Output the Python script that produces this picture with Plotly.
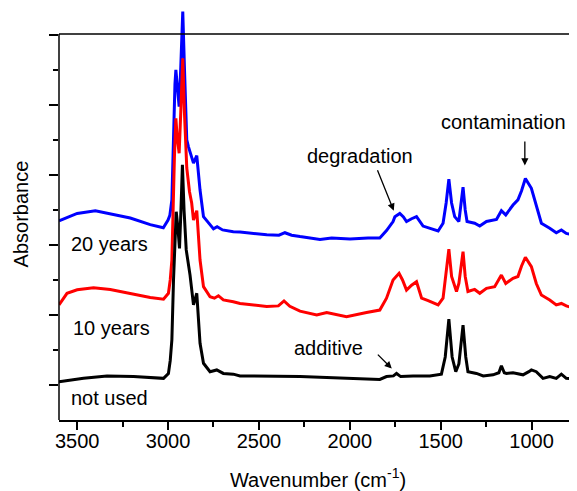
import plotly.graph_objects as go

# ---- data (wavenumber in cm^-1, absorbance in offset arbitrary units) ----
wn_20 = [3600, 3500, 3400, 3300, 3208, 3098, 3026, 3000, 2990, 2979, 2970, 2962, 2957, 2950, 2939, 2930,
         2919, 2910, 2897, 2888, 2875, 2860, 2842, 2824, 2805, 2769, 2750, 2730, 2700, 2641, 2604, 2457,
         2390, 2357, 2320, 2274, 2164, 2100, 1999, 1900, 1835, 1798, 1762, 1752, 1725, 1705, 1688, 1660,
         1633, 1597, 1560, 1514, 1487, 1470, 1455, 1440, 1423, 1400, 1390, 1377, 1365, 1355, 1313, 1285,
         1248, 1193, 1166, 1142, 1102, 1075, 1055, 1034, 1001, 974, 946, 900, 864, 836, 809, 750]
abs_20 = [5.69, 5.90, 5.98, 5.86, 5.77, 5.58, 5.49, 5.71, 5.85, 6.29, 8.20, 9.60, 10.0, 9.50, 8.95, 10.09,
          11.67, 10.09, 8.00, 7.81, 7.60, 7.34, 7.55, 6.57, 5.81, 5.57, 5.46, 5.52, 5.43, 5.38, 5.37, 5.29,
          5.28, 5.35, 5.28, 5.24, 5.16, 5.20, 5.17, 5.20, 5.20, 5.41, 5.67, 5.81, 5.90, 5.80, 5.67, 5.75,
          5.81, 5.54, 5.48, 5.40, 5.62, 6.20, 6.88, 6.20, 5.81, 5.67, 6.10, 6.65, 6.00, 5.67, 5.62, 5.54,
          5.67, 5.73, 5.98, 5.86, 6.14, 6.29, 6.55, 6.90, 6.62, 6.09, 5.62, 5.48, 5.35, 5.43, 5.33, 5.27]

wn_10 = [3600, 3556, 3500, 3410, 3318, 3190, 3098, 3025, 2998, 2988, 2979, 2965, 2957, 2950, 2939, 2930,
         2919, 2910, 2897, 2882, 2870, 2860, 2842, 2824, 2805, 2769, 2745, 2723, 2696, 2641, 2604, 2457,
         2393, 2362, 2330, 2274, 2182, 2127, 2018, 1908, 1835, 1798, 1762, 1729, 1710, 1688, 1660, 1633,
         1605, 1569, 1514, 1487, 1470, 1455, 1440, 1413, 1400, 1377, 1365, 1350, 1313, 1285, 1248, 1203,
         1166, 1142, 1102, 1075, 1055, 1034, 1001, 974, 946, 900, 864, 836, 809, 750]
abs_10 = [3.29, 3.62, 3.72, 3.78, 3.73, 3.60, 3.50, 3.45, 3.62, 4.00, 4.57, 7.50, 8.62, 8.10, 7.62, 8.80,
          10.33, 8.80, 7.20, 6.52, 6.20, 5.71, 5.98, 4.57, 3.81, 3.52, 3.48, 3.55, 3.43, 3.38, 3.33, 3.24,
          3.26, 3.40, 3.25, 3.11, 3.00, 3.07, 2.95, 3.07, 3.14, 3.48, 4.00, 4.19, 4.00, 3.71, 3.85, 3.95,
          3.48, 3.41, 3.29, 3.48, 4.20, 4.88, 4.10, 3.67, 3.90, 4.81, 4.10, 3.67, 3.73, 3.62, 3.76, 3.81,
          4.14, 3.90, 4.05, 4.10, 4.40, 4.65, 4.38, 3.90, 3.57, 3.43, 3.29, 3.33, 3.26, 3.16]

wn_new = [3600, 3465, 3336, 3190, 3025, 2998, 2988, 2979, 2970, 2962, 2955, 2946, 2937, 2929, 2921, 2912,
          2900, 2879, 2860, 2842, 2824, 2805, 2769, 2732, 2696, 2641, 2604, 2274, 1999, 1835, 1798, 1760,
          1743, 1720, 1652, 1560, 1496, 1475, 1455, 1437, 1417, 1400, 1377, 1362, 1350, 1303, 1266, 1212,
          1180, 1166, 1150, 1138, 1102, 1047, 1015, 1001, 974, 950, 937, 900, 864, 836, 809, 750]
abs_new = [1.09, 1.19, 1.26, 1.24, 1.19, 1.33, 1.70, 2.29, 4.00, 5.30, 5.95, 5.50, 4.90, 6.00, 7.29, 6.00,
           4.86, 4.14, 3.29, 3.62, 2.19, 1.62, 1.38, 1.43, 1.33, 1.31, 1.26, 1.24, 1.19, 1.16, 1.24, 1.26,
           1.33, 1.24, 1.26, 1.26, 1.31, 1.80, 2.88, 1.80, 1.38, 1.60, 2.71, 1.80, 1.38, 1.33, 1.26, 1.29,
           1.35, 1.55, 1.35, 1.33, 1.35, 1.29, 1.38, 1.43, 1.38, 1.25, 1.19, 1.24, 1.19, 1.31, 1.19, 1.16]

series_names = ["20 years", "10 years", "not used"]
series_colors = ["#0000FF", "#FF0000", "#000000"]
x_tickvals = [3500, 3000, 2500, 2000, 1500, 1000]
x_minor = [3250, 2750, 2250, 1750, 1250]
y_tickvals = [1, 3, 5, 7, 9, 11]
y_minor = [2, 4, 6, 8, 10]
Y_FRAME_TOP = 11.03   # top of the drawn frame; spectra may rise above it
Y_RANGE = [0, 11.77]

FONT = "Arial, Liberation Sans, sans-serif"
FS = 20

fig = go.Figure()
for wn, ab, name, col in zip([wn_20, wn_10, wn_new], [abs_20, abs_10, abs_new], series_names, series_colors):
    fig.add_trace(go.Scatter(x=wn, y=ab, mode="lines", name=name,
                             line=dict(color=col, width=3), showlegend=False))

# series labels
labels = [("20 years", 3546, 5.04), ("10 years", 3532, 2.63), ("not used", 3547, 0.63)]
for txt, x, y in labels:
    fig.add_annotation(x=x, y=y, text=txt, showarrow=False, xanchor="left", yanchor="middle",
                       font=dict(family=FONT, size=FS, color="#000"))

notes = [("additive", 2115, 2.05), ("degradation", 1945, 7.55), ("contamination", 1153, 8.5)]
for txt, x, y in notes:
    fig.add_annotation(x=x, y=y, text=txt, showarrow=False, xanchor="center", yanchor="middle",
                       font=dict(family=FONT, size=FS, color="#000"))

arrows = [(1769, 1.47, 1854, 1.91), (1758, 5.98, 1851, 7.18), (1037, 7.27, 1037, 8.0)]
for hx, hy, tx, ty in arrows:
    fig.add_annotation(x=hx, y=hy, ax=tx, ay=ty, xref="x", yref="y", axref="x", ayref="y",
                       text="", showarrow=True, arrowhead=2, arrowsize=1.1, arrowwidth=1.3,
                       arrowcolor="#000")

# frame: left axis line and top line (drawn as shapes so peaks can overshoot the frame)
fig.add_shape(type="line", xref="paper", yref="y", x0=0, x1=1, y0=Y_FRAME_TOP, y1=Y_FRAME_TOP,
              line=dict(color="#000", width=1.5))
fig.add_shape(type="line", xref="paper", yref="y", x0=0, x1=0, y0=0, y1=Y_FRAME_TOP,
              line=dict(color="#000", width=1.5))

fig.update_xaxes(range=[3600, 750], tickvals=x_tickvals, ticks="outside", ticklen=8, tickwidth=1.5,
                 tickcolor="#000", showline=True, linecolor="#000", linewidth=1.5, mirror=False,
                 showgrid=False, zeroline=False, ticklabelstandoff=-6,
                 tickfont=dict(family=FONT, size=FS, color="#000"),
                 minor=dict(tickvals=x_minor, ticks="outside", ticklen=5, tickwidth=1.5,
                            tickcolor="#000", showgrid=False),
                 title=dict(text="Wavenumber (cm<sup>-1</sup>)", standoff=22,
                            font=dict(family=FONT, size=FS, color="#000")))
fig.update_yaxes(range=Y_RANGE, tickvals=y_tickvals, showticklabels=False, ticks="outside", ticklen=9,
                 tickwidth=1.5, tickcolor="#000", showline=False, showgrid=False, zeroline=False,
                 minor=dict(tickvals=y_minor, ticks="outside", ticklen=5, tickwidth=1.5,
                            tickcolor="#000", showgrid=False),
                 title=dict(text="Absorbance", standoff=15,
                            font=dict(family=FONT, size=FS, color="#000")))

fig.update_layout(width=577, height=491, margin=dict(l=51, r=8, t=0, b=79, autoexpand=False),
                  plot_bgcolor="white", paper_bgcolor="white")
fig.write_html("out.html")
